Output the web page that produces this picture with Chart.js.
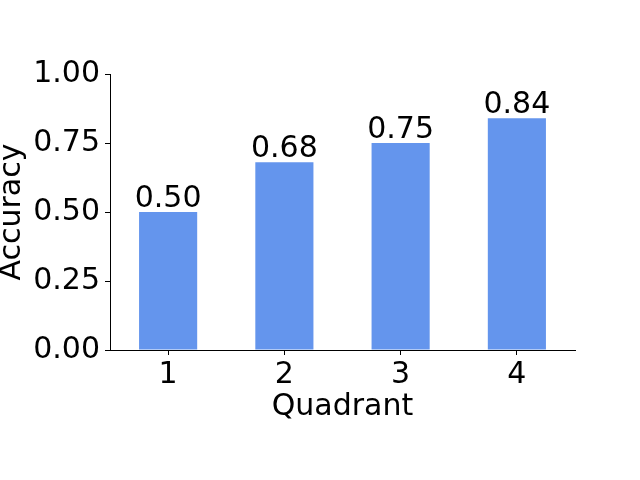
<!DOCTYPE html>
<html>
<head>
<meta charset="utf-8">
<script src="https://cdn.jsdelivr.net/npm/chart.js@4"></script>
<style>
  html,body{margin:0;padding:0;background:#fff}
  #wrap{width:640px;height:480px}
</style>
</head>
<body>
<div id="wrap"><canvas id="c" width="640" height="480"></canvas></div>
<script>
const quadrants = ['1','2','3','4']
const accuracy = [0.50, 0.68, 0.75, 0.84]
const yTicks = [0, 0.25, 0.5, 0.75, 1.0]

const FONT = 'DejaVu Sans'
const FS = 30
const BAR = '#6495ED'

// value labels above the bars
const barLabels = {
  id:'barLabels',
  afterDatasetsDraw(chart){
    const ctx = chart.ctx
    const meta = chart.getDatasetMeta(0)
    ctx.save()
    ctx.font = `${FS}px "${FONT}"`
    ctx.fillStyle = '#000'
    ctx.textAlign = 'center'
    ctx.textBaseline = 'alphabetic'
    meta.data.forEach((bar,i)=>{
      ctx.fillText(accuracy[i].toFixed(2), bar.x, bar.y - 5)
    })
    ctx.restore()
  }
}

new Chart(document.getElementById('c'),{
  type:'bar',
  data:{ labels:quadrants,
    datasets:[{ label:'Accuracy', data:accuracy, backgroundColor:BAR, borderWidth:0,
      categoryPercentage:1.0, barPercentage:0.5 }]
  },
  options:{
    responsive:false, animation:false,
    layout:{ padding:{ left:0, right:65, top:74, bottom:55 } },
    plugins:{ legend:{display:false}, tooltip:{enabled:false} },
    scales:{
      x:{
        offset:true,
        grid:{ display:true, drawOnChartArea:false, drawTicks:true, tickLength:5, tickColor:'#000', offset:false },
        border:{ display:true, color:'#000', width:1 },
        ticks:{ color:'#000', font:{family:FONT,size:FS,lineHeight:1}, padding:5 },
        title:{ display:true, text:'Quadrant', color:'#000', font:{family:FONT,size:FS,lineHeight:1.2}, padding:{top:0,bottom:0} },
        afterFit(s){ s.height = 75 }
      },
      y:{
        min:0, max:1,
        afterBuildTicks(s){ s.ticks = yTicks.map(v=>({value:v})) },
        grid:{ display:true, drawOnChartArea:false, drawTicks:true, tickLength:5, tickColor:'#000' },
        border:{ display:true, color:'#000', width:1 },
        ticks:{ color:'#000', font:{family:FONT,size:FS}, padding:5, callback:v=>Number(v).toFixed(2) },
        title:{ display:true, text:'Accuracy', color:'#000', font:{family:FONT,size:FS,lineHeight:0.8}, padding:{top:0,bottom:0} },
        afterFit(s){ s.width = 110 }
      }
    }
  },
  plugins:[barLabels]
})
</script>
</body>
</html>
